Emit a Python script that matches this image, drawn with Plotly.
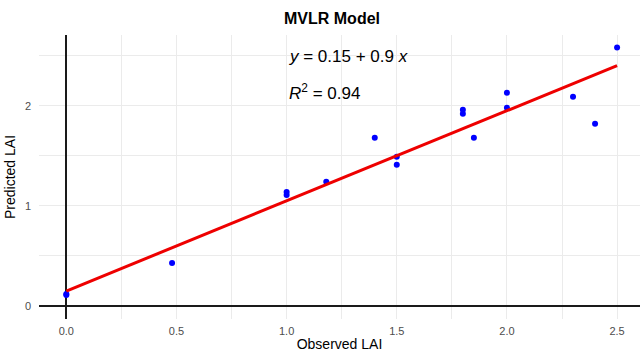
import plotly.graph_objects as go

observed = [0.0, 0.0, 0.48, 1.0, 1.0, 1.18, 1.4, 1.5, 1.5, 1.8, 1.8, 1.85, 2.0, 2.0, 2.3, 2.4, 2.5]
predicted = [0.11, 0.12, 0.43, 1.14, 1.11, 1.24, 1.68, 1.49, 1.41, 1.96, 1.92, 1.68, 2.13, 1.98, 2.09, 1.82, 2.58]
intercept = 0.15
slope = 0.9
r2 = 0.94
fit_x = [0.0, 2.5]
fit_y = [intercept + slope * v for v in fit_x]
x_ticks = [0.0, 0.5, 1.0, 1.5, 2.0, 2.5]
y_ticks = [0, 1, 2]

FONT = "Liberation Sans, Arial, sans-serif"
GRID = "#EBEBEB"

fig = go.Figure()
fig.add_trace(go.Scatter(x=observed, y=predicted, mode="markers",
                         marker=dict(color="#0000FF", size=6), showlegend=False))
fig.add_trace(go.Scatter(x=fit_x, y=fit_y, mode="lines",
                         line=dict(color="#EE0000", width=3), showlegend=False))

fig.update_layout(
    width=640, height=356,
    margin=dict(l=39, r=0, t=35, b=37),
    paper_bgcolor="white", plot_bgcolor="white",
    font=dict(family=FONT, color="black"),
    title=dict(text="<b>MVLR Model</b>", x=(332 - 39) / 601, xref="paper",
               xanchor="center", y=1 - 18 / 356, yanchor="middle",
               font=dict(size=16, color="black")),
    xaxis=dict(range=[-0.124, 2.604], tickvals=x_ticks,
               ticktext=[f"{v:.1f}" for v in x_ticks],
               showgrid=True, gridcolor=GRID, gridwidth=1,
               minor=dict(dtick=0.25, tick0=0.25, showgrid=True, gridcolor=GRID, gridwidth=0.6),
               zeroline=True, zerolinecolor="#1A1A1A", zerolinewidth=2,
               showline=False, ticks="", ticklabelstandoff=4,
               tickfont=dict(size=11, color="#4D4D4D"),
               title=dict(text="Observed LAI", font=dict(size=14, color="black"), standoff=3)),
    yaxis=dict(range=[-0.129, 2.706], tickvals=y_ticks,
               ticktext=[str(v) for v in y_ticks],
               showgrid=True, gridcolor=GRID, gridwidth=1,
               minor=dict(dtick=0.5, tick0=0.5, showgrid=True, gridcolor=GRID, gridwidth=0.6),
               zeroline=True, zerolinecolor="#1A1A1A", zerolinewidth=2,
               showline=False, ticks="", ticklabelstandoff=7,
               tickfont=dict(size=11, color="#4D4D4D"),
               title=dict(text="Predicted LAI", font=dict(size=14, color="black"), standoff=5)),
    annotations=[
        dict(x=1.0, y=2.49, xref="x", yref="y", xanchor="left", yanchor="middle",
             text=f"<i>y</i> = {intercept:.2f} + {slope:.1f} <i>x</i>", showarrow=False,
             font=dict(size=17, color="black")),
        dict(x=1.0, y=2.14, xref="x", yref="y", xanchor="left", yanchor="middle",
             text=f"<i>R</i><sup>2</sup> = {r2:.2f}", showarrow=False,
             font=dict(size=17, color="black")),
    ],
)

fig.write_html("out.html")
